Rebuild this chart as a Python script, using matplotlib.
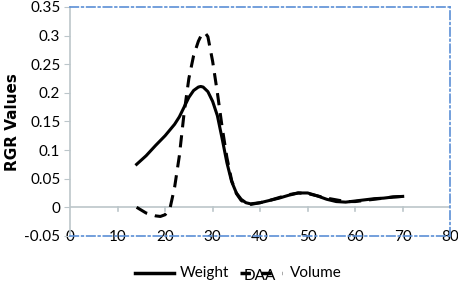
import matplotlib
matplotlib.use('Agg')
import matplotlib.pyplot as plt
from matplotlib.lines import Line2D

plt.rcParams['font.family'] = ['Lato', 'DejaVu Sans']

# Data
weight_x = [14, 16, 18, 20, 22, 23, 24, 25, 26, 27, 27.5, 28, 29, 30, 31, 32, 33, 34,
            35, 36, 37, 38, 40, 42, 44, 46, 48, 50, 52, 54, 56, 58, 60, 62, 64, 66, 68, 70]
weight_y = [0.075, 0.09, 0.108, 0.125, 0.145, 0.158, 0.175, 0.192, 0.204, 0.21, 0.211,
            0.21, 0.202, 0.185, 0.16, 0.12, 0.078, 0.045, 0.025, 0.014, 0.008, 0.006,
            0.008, 0.012, 0.016, 0.021, 0.025, 0.025, 0.02, 0.014, 0.01, 0.009, 0.011,
            0.013, 0.015, 0.016, 0.018, 0.019]

volume_x = [14, 16, 18, 19, 20, 21, 22, 23, 24, 25, 26, 27, 27.7, 28.4, 29, 30, 31,
            32, 33, 34, 35, 36, 37, 38, 40, 42, 44, 46, 48, 50, 52, 54, 56, 58, 60,
            62, 64, 66, 68, 70]
volume_y = [0.0, -0.01, -0.015, -0.016, -0.013, -0.003, 0.035, 0.09, 0.165, 0.225,
            0.265, 0.29, 0.302, 0.305, 0.298, 0.255, 0.2, 0.14, 0.087, 0.047, 0.024,
            0.012, 0.007, 0.005, 0.008, 0.012, 0.017, 0.022, 0.025, 0.024, 0.02,
            0.016, 0.013, 0.01, 0.01, 0.012, 0.014, 0.016, 0.018, 0.019]

x_ticks = [0, 10, 20, 30, 40, 50, 60, 70, 80]
y_ticks = [-0.05, 0, 0.05, 0.1, 0.15, 0.2, 0.25, 0.3, 0.35]
y_tick_labels = ['-0.05', '0', '0.05', '0.1', '0.15', '0.2', '0.25', '0.3', '0.35']

blue = '#5b8fd6'
grey = '#bcc6ca'

fig = plt.figure(figsize=(4.58, 2.87), dpi=100)
ax = fig.add_axes([0.153, 0.178, 0.83, 0.798])
ax.set_xlim(0, 80)
ax.set_ylim(-0.05, 0.35)

ax.plot(weight_x, weight_y, color='black', lw=2.2, solid_joinstyle='round')
ax.plot(volume_x, volume_y, color='black', lw=2.2, dashes=(4, 2.6))

# zero line with downward ticks
ax.axhline(0, color=grey, lw=1.2, zorder=0)
for t in x_ticks[1:-1]:
    ax.plot([t, t], [0, -0.006], color=grey, lw=1.2, zorder=0)

for side in ['top', 'right', 'bottom']:
    ax.spines[side].set_color(blue)
    ax.spines[side].set_linestyle((0, (5, 2, 1, 2)))
    ax.spines[side].set_linewidth(1.2)
ax.spines['left'].set_color(grey)
ax.spines['left'].set_linewidth(1.2)

ax.set_xticks(x_ticks)
ax.set_yticks(y_ticks)
ax.set_yticklabels(y_tick_labels)
ax.tick_params(axis='x', length=0, pad=-4, labelsize=11, colors='black')
ax.tick_params(axis='y', length=4, color=grey, labelsize=11, pad=3)

fig.text(0.027, 0.575, 'RGR Values', rotation=90, ha='center', va='center',
         fontsize=11, fontweight='bold', family=['DejaVu Sans'])

# legend drawn by hand
fig.add_artist(Line2D([0.295, 0.38], [0.049, 0.049], color='black', lw=2.5))
fig.text(0.392, 0.049, 'Weight', ha='left', va='center', fontsize=11)
fig.add_artist(Line2D([0.525, 0.615], [0.049, 0.049], color='black', lw=2.5, dashes=(3, 3)))
fig.text(0.568, 0.038, 'DAA', ha='center', va='center', fontsize=11)
fig.text(0.633, 0.049, 'Volume', ha='left', va='center', fontsize=11)

fig.savefig('out.png', dpi=100)
